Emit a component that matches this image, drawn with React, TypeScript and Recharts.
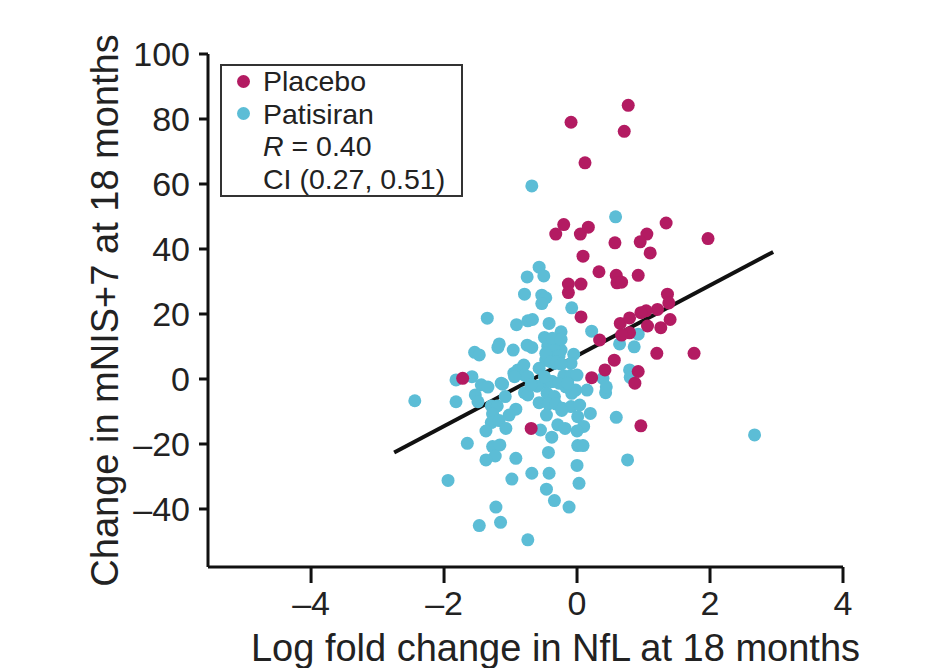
import { ScatterChart, Scatter, XAxis, YAxis, ReferenceLine } from "recharts";

const placeboX = [
  -0.09, 0.12, 0.71, 0.77, -0.2, -0.32, 0.05, 0.17, 0.57, 0.09, 0.33, 0.59, 1.34, 1.05, 0.95, 1.1,
  1.97, 0.92, 0.6, 0.67, -0.13, 0.06, -0.13, 0.06, 0.34, 0.65, 0.56, 0.42, 0.22, -1.72, 1.36, 1.38,
  1.21, 1.04, 0.96, 0.79, 1.4, 1.26, 1.06, 0.79, 0.67, 1.2, 1.76, 0.92, 0.87, 0.96, -0.69,
];
const placeboY = [
  79.0, 66.5, 76.2, 84.2, 47.5, 44.6, 44.6, 46.7, 41.9, 37.8, 33.0, 31.9, 48.0, 44.6, 42.2, 38.8,
  43.2, 31.9, 29.6, 29.8, 29.2, 29.2, 26.6, 19.1, 12.0, 17.1, 5.8, 2.8, 0.4, 0.2, 26.1, 23.4,
  21.4, 21.0, 20.4, 18.8, 18.3, 15.8, 16.3, 14.2, 13.5, 7.9, 7.9, 2.3, -1.3, -14.4, -15.2,
];

const patisiranX = [
  -0.68, 0.58, -0.57, -0.5, -0.75, -0.79, -0.53, -0.47, -0.53, -0.08, -1.35, -0.91, -0.74, -0.67, -0.42, -0.24,
  0.22, -0.49, -0.34, -0.3, -1.17, -1.19, -0.96, -0.75, -0.68, -1.54, -1.47, -0.42, -0.34, -0.24, -0.47, -0.33,
  -0.05, -0.09, 0.64, 0.39, 0.43, 0.15, -0.02, -0.08, -0.17, -0.2, -0.1, -0.37, -0.49, -0.6, -0.57, -0.95,
  -0.89, -0.8, -0.79, -0.74, -1.12, -0.79, -0.74, -1.58, -1.82, -1.44, -1.34, -1.53, -1.82, -2.44, -1.49, -1.29,
  -1.2, -1.08, -0.92, -0.45, -0.34, -0.57, -0.43, -0.32, -0.22, -0.09, 0.04, 0.2, -0.46, -1.27, -1.02, 0.59,
  0.01, 0.92, 0.86, 0.79, 0.8, -1.29, -1.17, -1.37, -1.07, -1.65, -1.27, -1.16, -1.23, -1.37, -0.92, -1.94,
  -0.98, -0.68, -0.42, -0.43, -0.38, -0.55, -0.29, -0.18, -0.23, 0.1, 0.0, 0.01, 0.09, 0.0, 0.03, -0.46,
  -0.34, -0.12, -1.22, -1.47, -1.15, -0.74, 0.76, 2.67, -0.44, -0.35, -0.47, -0.27, -0.4, -0.3, -0.24, 0.0,
  -0.39, -0.27, -0.14, -1.14, -0.69, 0.44, -0.49, -0.94, -0.37, -0.24,
];
const patisiranY = [
  59.4, 49.9, 34.4, 31.7, 31.4, 26.1, 25.8, 25.0, 23.2, 21.9, 18.7, 16.7, 17.9, 18.3, 17.1, 14.5,
  14.7, 12.8, 12.0, 10.4, 10.8, 9.7, 8.9, 10.4, 9.7, 8.2, 7.4, 8.4, 7.4, 8.9, 5.8, 4.8,
  7.6, 4.8, 10.8, 0.2, -4.2, -3.4, -3.4, -4.4, -2.4, 1.0, 1.0, -0.8, -1.1, -2.2, 3.3, 1.8,
  2.8, 4.3, 1.2, 0.7, -1.6, -4.2, -4.9, 0.7, -0.3, -1.8, -2.5, -4.9, -7.0, -6.7, -7.0, -8.3,
  -8.3, -5.4, -9.3, -4.4, -5.4, -7.3, -7.7, -7.7, -9.0, -8.5, -8.0, -10.6, -11.1, -10.8, -11.1, -11.8,
  -11.6, 13.8, 9.9, 2.8, 0.5, -13.4, -12.8, -16.0, -15.2, -19.8, -20.8, -20.3, -23.7, -24.9, -24.4, -31.2,
  -30.8, -29.0, -29.0, -22.6, -17.9, -15.7, -14.1, -15.2, -9.7, -14.6, -16.0, -20.5, -20.5, -26.6, -32.1, -33.9,
  -37.4, -39.4, -39.4, -45.1, -44.1, -49.5, -24.9, -17.2, 10.1, 9.4, 7.9, 7.1, 5.3, 5.3, 4.6, 1.2,
  -0.8, -1.3, -1.3, -1.3, -1.8, -2.4, 0.7, 0.7, 12.5, 12.2,
];

// regression line end points
const fitX = [-2.75, 2.95];
const fitY = [-22.6, 39.1];

const xTicks = [-4, -2, 0, 2, 4];
const yTicks = [-40, -20, 0, 20, 40, 60, 80, 100];

const PLACEBO = "#b31b62";
const PATISIRAN = "#5cbdd6";
const FONT = "'Liberation Sans', Arial, Helvetica, sans-serif";

const placebo = placeboX.map((x, i) => ({ x, y: placeboY[i] }));
const patisiran = patisiranX.map((x, i) => ({ x, y: patisiranY[i] }));

const fmt = (v: number) => String(v).replace("-", "\u2013");

const dot = (color: string) => (props: any) => (
  <circle cx={props.cx} cy={props.cy} r={6.5} fill={color} />
);

const swatch = (color: string) => (
  <span
    style={{
      width: 13,
      height: 13,
      borderRadius: "50%",
      background: color,
      marginLeft: 14.5,
      marginRight: 13.5,
      flex: "none",
    }}
  />
);

export default function App() {
  return (
    <div style={{ position: "relative", width: 911, height: 660, fontFamily: FONT }}>
      <ScatterChart width={911} height={660} margin={{ top: 46, right: 76, bottom: 41, left: 8 }}>
        <XAxis
          type="number"
          dataKey="x"
          domain={[-5.55, 4]}
          ticks={xTicks}
          tickFormatter={fmt}
          height={60}
          tickSize={16}
          tickMargin={8}
          axisLine={{ stroke: "#111", strokeWidth: 3 }}
          tickLine={{ stroke: "#111", strokeWidth: 3 }}
          tick={{ fill: "#222", fontSize: 34, fontFamily: FONT }}
          label={{
            value: "Log fold change in NfL at 18 months",
            position: "bottom",
            offset: 7,
            dx: 30,
            style: { fill: "#222", fontSize: 38, fontFamily: FONT },
          }}
        />
        <YAxis
          type="number"
          dataKey="y"
          domain={[-57.85, 100]}
          ticks={yTicks}
          tickFormatter={fmt}
          width={192}
          tickSize={9}
          tickMargin={9}
          axisLine={{ stroke: "#111", strokeWidth: 3 }}
          tickLine={{ stroke: "#111", strokeWidth: 3 }}
          tick={{ fill: "#222", fontSize: 34, fontFamily: FONT }}
          label={{
            value: "Change in mNIS+7 at 18 months",
            angle: -90,
            position: "center",
            dx: -7,
            style: { fill: "#222", fontSize: 38, fontFamily: FONT, textAnchor: "middle" },
          }}
        />
        <Scatter data={patisiran} shape={dot(PATISIRAN)} isAnimationActive={false} />
        <Scatter data={placebo} shape={dot(PLACEBO)} isAnimationActive={false} />
        <ReferenceLine
          segment={[
            { x: fitX[0], y: fitY[0] },
            { x: fitX[1], y: fitY[1] },
          ]}
          stroke="#111"
          strokeWidth={4}
        />
      </ScatterChart>
      <div
        style={{
          position: "absolute",
          left: 212,
          top: 56,
          width: 243,
          height: 133,
          border: "2px solid #333",
          fontSize: 28.5,
          color: "#222",
          lineHeight: "32.5px",
          boxSizing: "border-box",
        }}
      >
        <div style={{ position: "relative", top: -1 }}>
          <div style={{ display: "flex", alignItems: "center" }}>
            {swatch(PLACEBO)}
            Placebo
          </div>
          <div style={{ display: "flex", alignItems: "center" }}>
            {swatch(PATISIRAN)}
            Patisiran
          </div>
          <div style={{ paddingLeft: 41 }}>
            <i>R</i> = 0.40
          </div>
          <div style={{ paddingLeft: 41 }}>CI (0.27, 0.51)</div>
        </div>
      </div>
    </div>
  );
}
